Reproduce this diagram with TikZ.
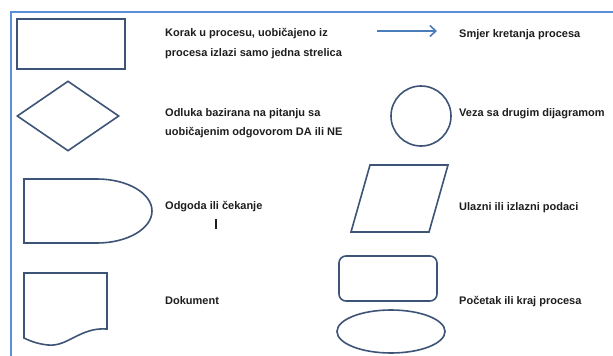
\documentclass[tikz,border=0pt]{standalone}
\usepackage{fontspec}
\setmainfont{Liberation Sans}
\usetikzlibrary{arrows.meta,shapes.geometric}
\definecolor{frameblue}{HTML}{5B8ED8}
\definecolor{shapeline}{HTML}{3E5477}
\definecolor{arrowblue}{HTML}{4A7DBA}
\definecolor{txt}{HTML}{1E1E1E}
\begin{document}
\begin{tikzpicture}[x=1pt,y=-1pt,
  shp/.style={draw=shapeline, line width=1.6pt},
  lbl/.style={anchor=base west, inner sep=0pt, font=\fontsize{11}{13}\selectfont\bfseries, text=txt},
]
\useasboundingbox (0,0) rectangle (613,356);
\fill[white] (0,0) rectangle (613,356);
\draw[frameblue, line width=1.2pt] (11,356) -- (11,12) -- (613,12);

% shapes
\node[shp, line width=2.2pt, rectangle, minimum width=108pt, minimum height=50pt, inner sep=0pt] (proc) at (71,44) {};
\node[shp, diamond, minimum width=102pt, minimum height=70pt, inner sep=0pt] (dec) at (68,116) {};
\draw[shp] (97,179) -- (24,179) -- (24,243) -- (97,243) arc[start angle=-90, end angle=90, x radius=55pt, y radius=32pt];
\draw[shp] (24,273) -- (107,273) -- (107,329) .. controls (80,327) and (68,347) .. (48,345) .. controls (38,344) and (30,341) .. (24,338) -- cycle;

\coordinate (a1) at (377,31);
\coordinate (a2) at (437,31);
\draw[arrowblue, line width=1.6pt, -{Straight Barb[length=6pt,width=11pt]}] (a1) -- (a2);
\node[shp, circle, minimum size=60pt, inner sep=0pt] (conn) at (421,116) {};
\draw[shp] (351,232) -- (429,232) -- (448,165) -- (370,165) -- cycle;
\node[shp, rectangle, rounded corners=7pt, minimum width=98pt, minimum height=45pt, inner sep=0pt] (term) at (388,278.5) {};
\node[shp, ellipse, minimum width=108pt, minimum height=43pt, inner sep=0pt] (ell) at (391,331.5) {};

% texts
\node[lbl] (t1a) at (165,36) {Korak u procesu, uobičajeno iz};
\node[lbl] (t1b) at (165,56) {procesa izlazi samo jedna strelica};
\node[lbl] (t2a) at (165,116) {Odluka bazirana na pitanju sa};
\node[lbl] (t2b) at (165,135) {uobičajenim odgovorom DA ili NE};
\node[lbl] (t3) at (165,209) {Odgoda ili čekanje};
\node[lbl] (t4) at (165,304) {Dokument};
\node[lbl] (t5) at (459,37) {Smjer kretanja procesa};
\node[lbl] (t6) at (459,116) {Veza sa drugim dijagramom};
\node[lbl] (t7) at (459,210) {Ulazni ili izlazni podaci};
\node[lbl] (t8) at (459,304) {Početak ili kraj procesa};

\coordinate (c1) at (216,219);
\coordinate (c2) at (216,229);
\draw[txt, line width=1.3pt] (c1) -- (c2);
\end{tikzpicture}
\end{document}
